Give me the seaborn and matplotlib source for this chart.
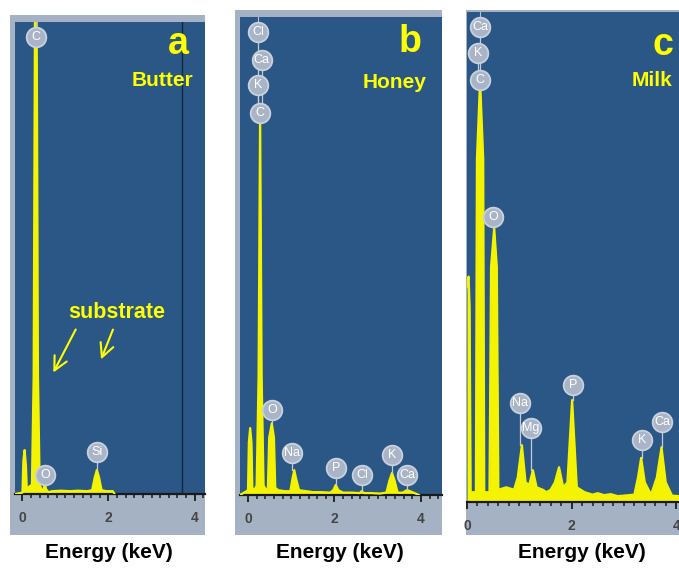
import matplotlib
matplotlib.use("Agg")
import matplotlib.pyplot as plt
from matplotlib.patches import Rectangle, FancyArrowPatch
from matplotlib.ticker import MultipleLocator
import seaborn as sns

plt.rcParams['font.family'] = ['Liberation Sans', 'DejaVu Sans']

# ---------------- data ----------------
# Panel a : Butter
a_energy = [-0.17, 0.00, 0.02, 0.05, 0.08, 0.10, 0.15, 0.22, 0.26, 0.29, 0.31, 0.33, 0.36, 0.40,
            0.46, 0.49, 0.52, 0.55, 0.60, 0.70, 0.90, 1.10, 1.30, 1.50, 1.62, 1.68, 1.73, 1.78,
            1.84, 1.95, 2.10, 2.14]
a_counts = [0.0, 0.3, 7.0, 9.3, 6.0, 1.0, 1.5, 2.0, 25.0, 100.0, 300.0, 100.0, 25.0, 2.0,
            0.5, 1.0, 2.2, 1.0, 0.4, 0.6, 0.7, 0.6, 0.7, 0.6, 0.8, 3.5, 5.1, 3.5,
            0.8, 0.6, 0.6, 0.0]
a_labels = ["C", "O", "Si"]
a_label_energy = [0.31, 0.52, 1.73]
a_label_height = [96.8, 4.0, 8.9]
a_label_stem = [96.8, 2.2, 5.1]

# Panel b : Honey
b_energy = [-0.185, 0.00, 0.02, 0.05, 0.08, 0.10, 0.15, 0.20, 0.245, 0.28, 0.315, 0.36, 0.42,
            0.46, 0.49, 0.55, 0.60, 0.63, 0.70, 0.85, 0.98, 1.03, 1.07, 1.11, 1.18, 1.35,
            1.50, 1.70, 1.90, 1.97, 2.03, 2.09, 2.20, 2.40, 2.58, 2.63, 2.68, 2.85, 3.05,
            3.20, 3.27, 3.33, 3.39, 3.46, 3.58, 3.65, 3.68, 3.72, 3.85, 3.95]
b_counts = [0.0, 1.0, 11.0, 14.0, 11.0, 1.5, 1.0, 2.0, 25.0, 80.0, 25.0, 2.0, 1.0,
            1.5, 12.0, 15.0, 12.0, 1.5, 1.0, 0.8, 0.8, 3.5, 5.2, 3.5, 1.0, 0.8,
            0.6, 0.6, 0.5, 1.0, 2.1, 1.0, 0.5, 0.5, 0.4, 0.8, 0.4, 0.4, 0.3,
            0.5, 3.0, 4.6, 3.0, 0.5, 0.5, 0.9, 1.0, 0.9, 0.4, 0.0]
b_labels = ["Cl", "Ca", "K", "C", "O", "Na", "P", "Cl", "K", "Ca"]
b_label_energy = [0.23, 0.32, 0.23, 0.28, 0.55, 1.02, 2.03, 2.64, 3.33, 3.68]
b_label_height = [96.9, 91.0, 85.8, 79.9, 17.8, 8.8, 5.6, 4.2, 8.4, 4.2]
b_label_stem = [79.9, 79.9, 79.9, 79.9, 15.0, 5.2, 2.1, 0.8, 4.6, 1.0]

# Panel c : Milk
c_energy = [0.00, 0.03, 0.05, 0.07, 0.17, 0.19, 0.25, 0.31, 0.33, 0.43, 0.46, 0.52, 0.57, 0.60,
            0.75, 0.90, 0.97, 1.05, 1.12, 1.19, 1.26, 1.33, 1.45, 1.52, 1.60, 1.68, 1.76, 1.84,
            1.92, 2.01, 2.10, 2.25, 2.40, 2.50, 2.62, 2.75, 2.88, 3.00, 3.20, 3.27, 3.33, 3.40,
            3.52, 3.63, 3.72, 3.80, 3.92, 4.05]
c_counts = [44.0, 46.0, 40.0, 2.0, 2.0, 70.0, 86.0, 70.0, 2.0, 2.0, 48.0, 56.0, 48.0, 2.5,
            3.0, 2.5, 5.0, 11.6, 4.0, 3.5, 6.5, 3.0, 2.5, 2.0, 2.5, 4.0, 7.1, 3.0,
            4.0, 20.8, 3.0, 2.0, 1.5, 1.8, 1.4, 1.6, 1.2, 1.3, 1.5, 5.0, 9.0, 4.0,
            1.5, 5.0, 11.2, 4.0, 1.3, 1.2]
c_labels = ["Ca", "K", "C", "O", "Na", "Mg", "P", "K", "Ca"]
c_label_energy = [0.25, 0.21, 0.25, 0.50, 1.01, 1.22, 2.03, 3.35, 3.73]
c_label_height = [96.9, 91.6, 86.1, 58.2, 20.2, 15.1, 23.9, 12.7, 16.3]
c_label_stem = [86.0, 86.0, 86.0, 56.0, 11.6, 6.5, 20.8, 9.0, 11.2]

panel_letters = ["a", "b", "c"]
panel_names = ["Butter", "Honey", "Milk"]
tick_values = [0, 2, 4]
x_title = "Energy (keV)"

# ---------------- styling / layout ----------------
W, H = 679, 568
BLUE = '#2A5786'
FRAME = '#A4B2C4'
YEL = '#F4F400'
CIRC = '#A9B5C7'

fig = plt.figure(figsize=(W / 100, H / 100), dpi=100)


def rect(x0, y0, x1, y1):
    return [x0 / W, 1 - y1 / H, (x1 - x0) / W, (y1 - y0) / H]


panels = [
    dict(frame=(10, 15, 205, 535), ax=(15, 22, 205, 494), xlim=(-0.174, 4.244),
         e=a_energy, c=a_counts, lab=a_labels, le=a_label_energy, lh=a_label_height, ls=a_label_stem,
         letter=(178, 44), name=(193, 81), xlab=(109, 553)),
    dict(frame=(235, 10, 442, 535), ax=(240, 17, 442, 495), xlim=(-0.185, 4.486),
         e=b_energy, c=b_counts, lab=b_labels, le=b_label_energy, lh=b_label_height, ls=b_label_stem,
         letter=(410, 42), name=(426, 82), xlab=(340, 553)),
    dict(frame=(466, 10, 679, 535), ax=(467, 12, 679, 502), xlim=(0.0, 4.054),
         e=c_energy, c=c_counts, lab=c_labels, le=c_label_energy, lh=c_label_height, ls=c_label_stem,
         letter=(663, 45), name=(672, 81), xlab=(582, 553)),
]

for i, p in enumerate(panels):
    x0, y0, x1, y1 = p['frame']
    fig.add_artist(Rectangle((x0 / W, 1 - y1 / H), (x1 - x0) / W, (y1 - y0) / H,
                             transform=fig.transFigure, facecolor=FRAME, edgecolor='none',
                             zorder=-5))
    ax = fig.add_axes(rect(*p['ax']))
    ax.set_facecolor(BLUE)
    ax.fill_between(p['e'], p['c'], 0, color=YEL, lw=0, zorder=2)
    sns.lineplot(x=p['e'], y=p['c'], ax=ax, color=YEL, lw=1.6, estimator=None,
                 sort=False, zorder=3)
    ax.set_xlim(*p['xlim'])
    ax.set_ylim(0, 100)
    ax.set_xlabel('')
    ax.set_ylabel('')
    ax.set_yticks([])
    ax.set_xticks(tick_values)
    ax.xaxis.set_minor_locator(MultipleLocator(0.2))
    ax.tick_params(axis='x', which='major', direction='out', length=5, width=1.3,
                   color='#1a1a1a', pad=7, labelsize=10, labelcolor='#454545', bottom=True)
    ax.tick_params(axis='x', which='minor', direction='out', length=3, width=1.1,
                   color='#1a1a1a', bottom=True)
    for t in ax.get_xticklabels():
        t.set_fontweight('bold')
    for s in ['top', 'left', 'right']:
        ax.spines[s].set_visible(False)
    ax.spines['bottom'].set_color('#1a1a1a')
    ax.spines['bottom'].set_linewidth(1.6)

    if i == 0:
        ax.axvline(3.72, color='#16263c', lw=1.0, zorder=1)

    # element markers
    top_idx = max(range(len(p['lh'])), key=lambda k: p['lh'][k])
    ax.plot([p['le'][top_idx]] * 2, [p['lh'][top_idx], 100], color='#B8C2D0', lw=0.8,
            zorder=4, clip_on=False)
    for name, e, h, s in zip(p['lab'], p['le'], p['lh'], p['ls']):
        ax.plot([e, e], [h, s], color='#C3CBD8', lw=0.9, zorder=4)
    for name, e, h in zip(p['lab'], p['le'], p['lh']):
        ax.scatter([e], [h], s=200, color=CIRC, edgecolor='#C9D1DD', linewidth=1.3,
                   zorder=5, clip_on=False)
        ax.text(e, h, name, ha='center', va='center', color='white', fontsize=9,
                zorder=6, clip_on=False)

    lx, ly = p['letter']
    fig.text(lx / W, 1 - ly / H, panel_letters[i], ha='center', va='center',
             color='#FFFF00', fontsize=27, fontweight='bold')
    nx, ny = p['name']
    fig.text(nx / W, 1 - ny / H, panel_names[i], ha='right', va='center',
             color='#FFFF00', fontsize=15, fontweight='bold')
    tx, ty = p['xlab']
    fig.text(tx / W, 1 - ty / H, x_title, ha='center', va='center',
             color='black', fontsize=15, fontweight='bold')

# substrate annotation (panel a)
fig.text(117 / W, 1 - 312 / H, "substrate", ha='center', va='center',
         color='#FFFF00', fontsize=15.5, fontweight='bold')
for (sx, sy), (ex, ey) in [((77, 327), (52, 375)), ((114, 327), (100, 362))]:
    fig.add_artist(FancyArrowPatch(
        (sx / W, 1 - sy / H), (ex / W, 1 - ey / H), transform=fig.transFigure,
        arrowstyle='->,head_length=0.7,head_width=0.35', color='#FFFF00', lw=1.5,
        mutation_scale=14, zorder=10))

fig.savefig('out.png', dpi=100)
